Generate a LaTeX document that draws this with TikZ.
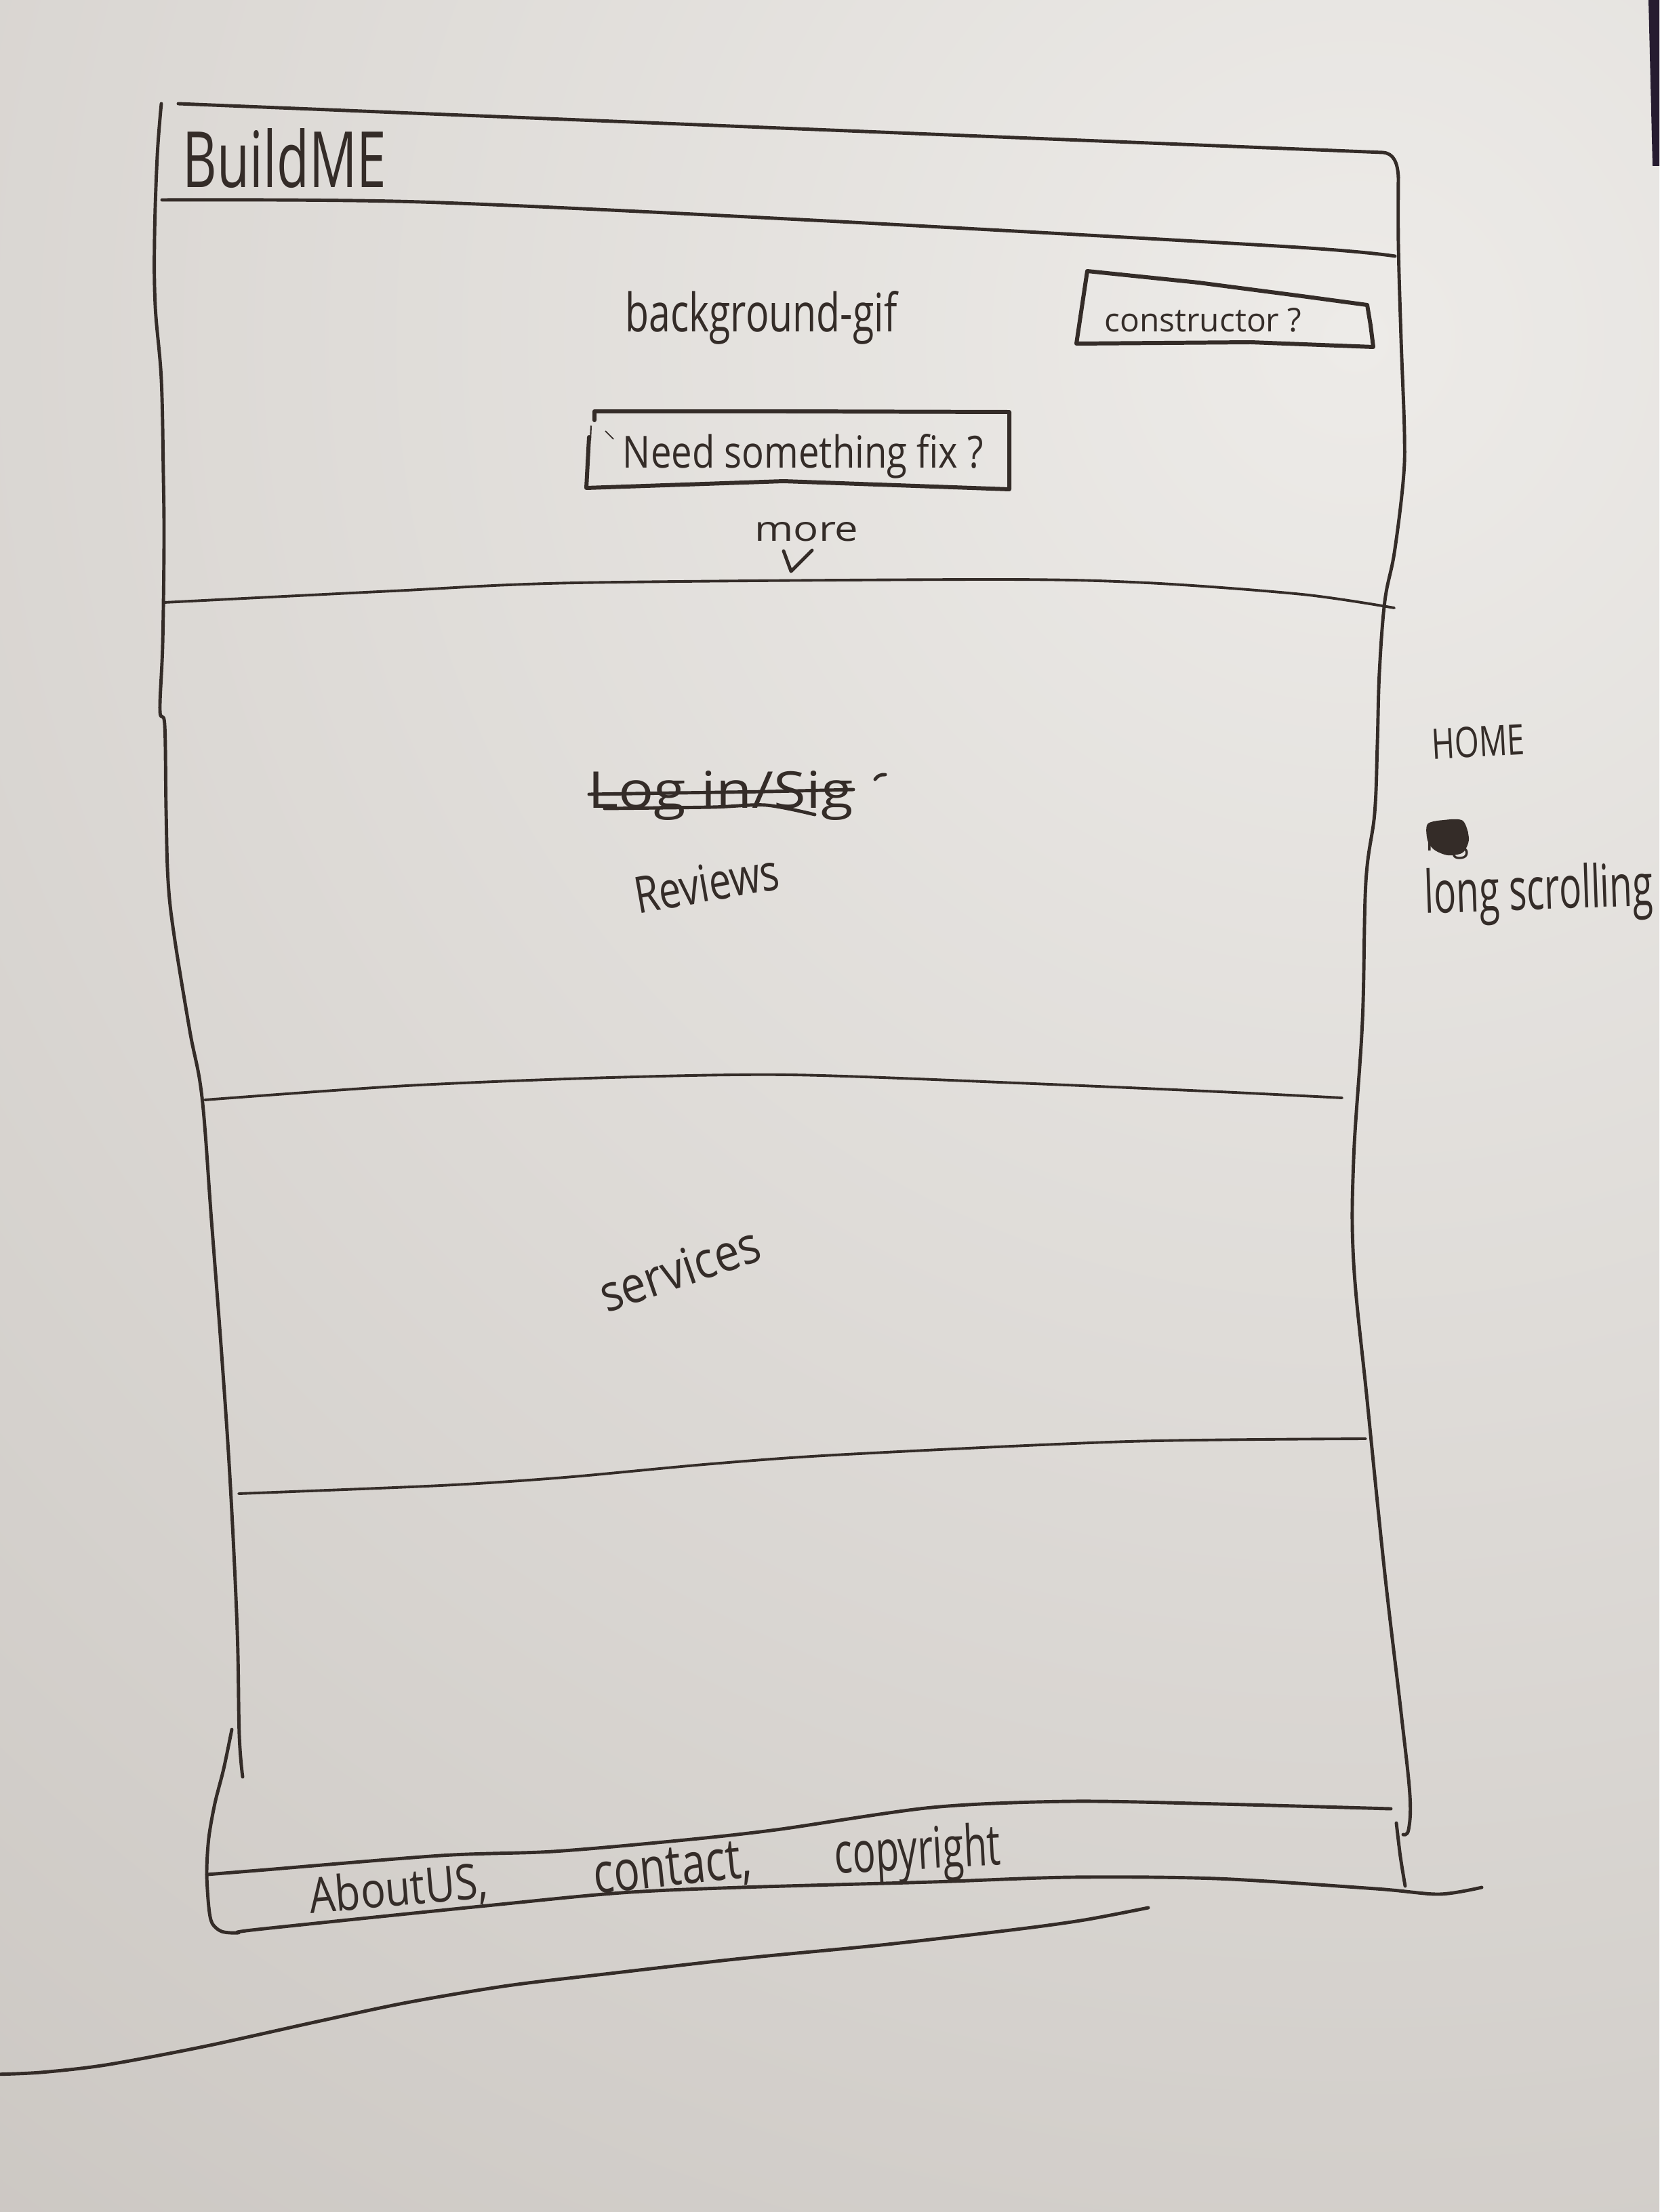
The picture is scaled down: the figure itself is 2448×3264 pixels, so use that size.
\documentclass[tikz,border=0pt]{standalone}
\usepackage{fontspec}
\setmainfont{Open Sans}
\usepackage{graphicx}
\newlength{\pxu}\setlength{\pxu}{0.01cm}
% hand lettering: text stretched to a given width and height (in 0.01cm units)
\newcommand{\hand}[3]{\resizebox{#1\pxu}{#2\pxu}{#3}}
\definecolor{ink}{RGB}{52,44,40}
\definecolor{paperhi}{RGB}{237,235,232}
\definecolor{paperlo}{RGB}{196,191,186}
\definecolor{desk}{RGB}{38,28,48}

\begin{document}
\begin{tikzpicture}[x=0.01cm,y=-0.01cm,
  pen/.style={draw=ink,line width=1.4pt,line cap=round,line join=round},
  thinpen/.style={pen,line width=1.1pt},
  boxpen/.style={pen,line width=1.7pt},
  txt/.style={text=ink,inner sep=0pt,anchor=base}]

\useasboundingbox (0,0) rectangle (2448,3264);

% sheet of paper with soft light falloff
\begin{scope}
  \clip (0,0) rectangle (2448,3264);
  \fill[paperlo] (0,0) rectangle (2448,3264);
  \shade[inner color=paperhi,outer color=paperlo] (2000,500) circle (4300);
  \fill[desk] (2432,0) -- (2448,0) -- (2448,245) -- (2438,245) -- cycle;
\end{scope}

% page frame: left edge
\draw[pen] plot[smooth,tension=0.6] coordinates {(238,153) (232,230) (228,350) (229,451) (238,560) (241,700) (242,801) (240,950) (236,1048) (243,1070) (245,1194) (248,1300) (257,1381) (280,1521) (298,1619) (312,1801) (328,2012) (340,2194) (350,2406) (353,2560) (358,2622)};
% page frame: top edge, rounded corner, right edge
\draw[pen] (263,153) -- (2040,225) .. controls (2056,226) and (2062,240) .. (2063,262);
\draw[pen] plot[smooth,tension=0.6] coordinates {(2063,262) (2063,360) (2067,501) (2072,641) (2070,711) (2057,816) (2043,887) (2035,992) (2032,1097) (2028,1200) (2015,1302) (2010,1506) (1997,1710) (1997,1863) (2017,2067) (2043,2322) (2067,2527) (2080,2649) (2078,2700) (2070,2707)};
\draw[pen] plot[smooth] coordinates {(2060,2690) (2066,2740) (2073,2783)};

% header bar
\draw[pen] plot[smooth] coordinates {(239,295) (620,298) (1200,325) (1900,364) (2058,378)};

% section dividers
\draw[thinpen] plot[smooth] coordinates {(242,889) (580,872) (850,860) (1462,855) (1692,860) (1921,877) (2057,897)};
\draw[thinpen] plot[smooth] coordinates {(302,1623) (600,1602) (900,1590) (1166,1586) (1500,1598) (1800,1611) (1980,1620)};
\draw[thinpen] plot[smooth] coordinates {(352,2204) (650,2192) (833,2180) (1050,2160) (1249,2146) (1665,2127) (2015,2123)};

% footer strip
\draw[pen] plot[smooth] coordinates {(305,2766) (380,2760) (650,2738) (816,2732) (1000,2716) (1145,2700) (1375,2667) (1580,2658) (1800,2662) (2052,2669)};
\draw[pen] plot[smooth] coordinates {(342,2552) (330,2610) (317,2661) (308,2712) (305,2763) (308,2814) (313,2838) (327,2850) (351,2852) (380,2847) (718,2812) (916,2793) (1093,2785) (1375,2777) (1580,2770) (1795,2772) (2030,2787) (2123,2795) (2186,2785)};

% long stroke below the page
\draw[pen] plot[smooth] coordinates {(1694,2815) (1600,2833) (1499,2847) (1300,2870) (1093,2890) (900,2912) (749,2930) (600,2955) (468,2983) (300,3020) (156,3047) (60,3058) (-10,3061)};

% buttons
\draw[boxpen] (1604,400) -- (1768,417) -- (1921,437) -- (2017,450) -- (2022,480) -- (2026,512) -- (1845,505) -- (1588,507) -- cycle;
\draw[boxpen] (869,645) -- (865,720) -- (1156,710) -- (1489,722) -- (1489,608) -- (1156,607) -- (877,607) -- (877,620);
\draw[ink,line width=0.6pt] (872,628) -- (871,650);
\draw[ink,line width=0.5pt] (893,636) -- (905,648);

% scroll hint
\draw[pen] (1156,813) -- (1167,843) -- (1198,812);

% texts
\node[txt] (brand) at (420,277) {\hand{300}{87}{BuildME}};
\node[txt] (bggif) at (1123,490) {\hand{401}{60}{background-gif}};
\node[txt] (ctor) at (1775,490) {\hand{291}{35}{constructor ?}};
\node[txt] (fixit) at (1185,690) {\hand{532}{50}{Need something fix ?}};
\node[txt] (more) at (1190,798) {\hand{153}{28}{more}};
\node[txt] (login) at (1063,1192) {\hand{392}{55}{Log in/Sig}};
\node[txt,rotate=10] (reviews) at (1047,1330) {\hand{215}{55}{Reviews}};
\node[txt,rotate=19] (services) at (1011,1898) {\hand{245}{55}{services}};
\node[txt,rotate=3] (home) at (2182,1117) {\hand{137}{45}{HOME}};
\node[txt] (logword) at (2135,1255) {\hand{64}{40}{log}};
\node[txt,rotate=2] (scroll) at (2271,1342) {\hand{337}{66}{long scrolling}};
\node[txt,rotate=5] (about) at (590,2812) {\hand{264}{55}{AboutUS,}};
\node[txt,rotate=6] (contact) at (995,2782) {\hand{234}{55}{contact,}};
\node[txt,rotate=3] (copy) at (1355,2758) {\hand{245}{64}{copyright}};

% crossed-out words
\draw[pen] plot[smooth] coordinates {(869,1172) (1000,1170) (1130,1168) (1259,1165)};
\draw[pen] plot[smooth] coordinates {(892,1193) (1050,1191) (1130,1188) (1202,1202)};
\draw[pen] (1291,1150) to[bend left] (1306,1143);
\fill[ink] plot[smooth cycle] coordinates {(2106,1216) (2130,1210) (2158,1211) (2167,1238) (2158,1258) (2136,1262) (2116,1254) (2106,1240)};
\end{tikzpicture}
\end{document}
